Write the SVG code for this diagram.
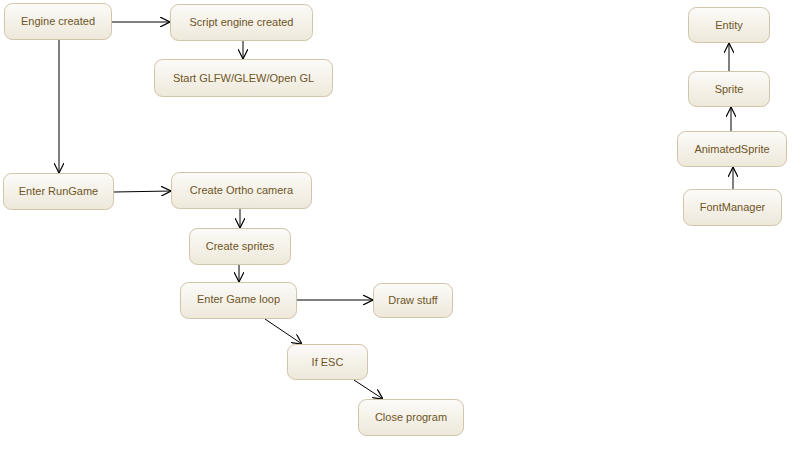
<svg xmlns="http://www.w3.org/2000/svg" width="807" height="456" viewBox="0 0 807 456">
<defs>
<linearGradient id="g" x1="0" y1="0" x2="0" y2="1">
<stop offset="0" stop-color="#fcfbf8"/>
<stop offset="1" stop-color="#eee8da"/>
</linearGradient>
<marker id="a" viewBox="0 0 10 10" refX="10" refY="5" markerWidth="10" markerHeight="10" markerUnits="userSpaceOnUse" orient="auto">
<path d="M0,0 L10,5 L0,10" fill="none" stroke="#000" stroke-width="1.2"/>
</marker>
<style>
.n rect{fill:url(#g);stroke:#d0c4aa;stroke-width:1}
.n text{font-family:"Liberation Sans",Arial,sans-serif;font-size:11px;fill:#6e5526;text-anchor:middle;dominant-baseline:central}
.c line{stroke:#000;stroke-width:1;marker-end:url(#a)}
.c polyline{stroke:#000;stroke-width:1;fill:none}
</style>
</defs>
<rect width="807" height="456" fill="#fff"/>
<g class="c">
<line x1="112" y1="22" x2="170" y2="22"/>
<line x1="243" y1="41" x2="243" y2="59"/>
<line x1="59" y1="39" x2="59" y2="173"/>
<line x1="114" y1="192" x2="171" y2="191"/>
<line x1="240" y1="209" x2="240" y2="228"/>
<line x1="239" y1="265" x2="239" y2="282"/>
<line x1="297" y1="300" x2="373" y2="300"/>
<line x1="265" y1="319" x2="302" y2="344"/>
<line x1="354" y1="380" x2="383" y2="399"/>
<line x1="729" y1="71" x2="729" y2="43"/>
<line x1="731" y1="132" x2="731" y2="107"/>
<line x1="733" y1="189" x2="733" y2="167"/>
</g>
<g id="engine" class="n"><rect x="4.5" y="3.5" width="107" height="36" rx="8"/><text x="58" y="21">Engine created</text></g>
<g id="script" class="n"><rect x="170.5" y="4.5" width="142" height="36" rx="8"/><text x="241.5" y="22">Script engine created</text></g>
<g id="glfw" class="n"><rect x="154.5" y="59.5" width="178" height="37" rx="8"/><text x="243.5" y="78">Start GLFW/GLEW/Open GL</text></g>
<g id="rungame" class="n"><rect x="3.5" y="173.5" width="110" height="36" rx="8"/><text x="58.5" y="191">Enter RunGame</text></g>
<g id="ortho" class="n"><rect x="171.5" y="172.5" width="140" height="36" rx="8"/><text x="241.5" y="190">Create Ortho camera</text></g>
<g id="sprites" class="n"><rect x="189.5" y="228.5" width="101" height="36" rx="8"/><text x="240" y="246">Create sprites</text></g>
<g id="gameloop" class="n"><rect x="180.5" y="282.5" width="116" height="36" rx="8"/><text x="238.5" y="299">Enter Game loop</text></g>
<g id="draw" class="n"><rect x="373.5" y="283.5" width="79" height="34" rx="8"/><text x="413" y="300">Draw stuff</text></g>
<g id="esc" class="n"><rect x="287.5" y="344.5" width="80" height="35" rx="8"/><text x="327.5" y="362">If ESC</text></g>
<g id="close" class="n"><rect x="358.5" y="399.5" width="105" height="36" rx="8"/><text x="411" y="417">Close program</text></g>
<g id="entity" class="n"><rect x="688.5" y="7.5" width="81" height="35" rx="8"/><text x="729" y="25">Entity</text></g>
<g id="sprite" class="n"><rect x="688.5" y="71.5" width="81" height="35" rx="8"/><text x="729" y="89">Sprite</text></g>
<g id="animsprite" class="n"><rect x="677.5" y="131.5" width="109" height="35" rx="8"/><text x="732" y="149">AnimatedSprite</text></g>
<g id="fontmgr" class="n"><rect x="683.5" y="189.5" width="98" height="36" rx="8"/><text x="732.5" y="207">FontManager</text></g>
</svg>
